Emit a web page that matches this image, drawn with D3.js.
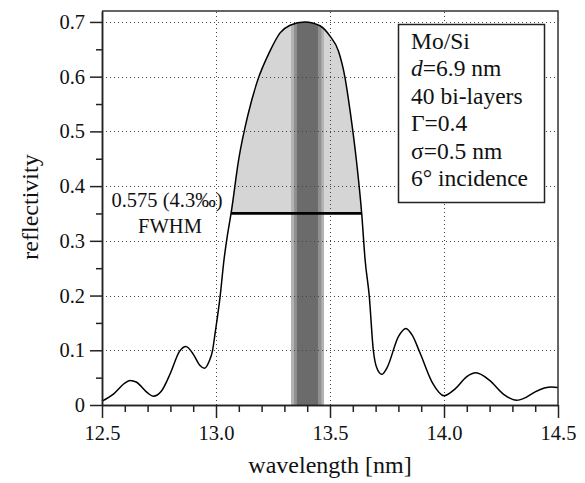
<!DOCTYPE html>
<html>
<head>
<meta charset="utf-8">
<script src="https://cdn.jsdelivr.net/npm/d3@7"></script>
<style>
  body { margin: 0; background: #fff; }
  svg { font-family: "Liberation Serif", "DejaVu Serif", serif; }
</style>
</head>
<body>
<svg id="chart" width="585" height="483"></svg>
<script>
// reflectivity curve
const wavelength = [12.50, 12.55, 12.60, 12.623, 12.65, 12.70, 12.725, 12.76, 12.80, 12.84, 12.868, 12.90, 12.93, 12.949, 12.97, 12.985, 12.996,
  13.018, 13.035, 13.05, 13.066, 13.10, 13.14, 13.18, 13.237, 13.281, 13.325, 13.39, 13.456, 13.50, 13.537, 13.566, 13.588, 13.615, 13.639,
  13.654, 13.672, 13.69, 13.705, 13.727, 13.75, 13.80, 13.833, 13.86, 13.895, 13.95, 14.00, 14.05, 14.10, 14.14, 14.20, 14.26, 14.319,
  14.36, 14.40, 14.44, 14.472, 14.50];
const reflectivity = [0.007, 0.020, 0.040, 0.045, 0.042, 0.022, 0.016, 0.025, 0.058, 0.098, 0.107, 0.093, 0.072, 0.067, 0.080, 0.100, 0.131,
  0.198, 0.265, 0.310, 0.350, 0.450, 0.530, 0.590, 0.647, 0.680, 0.694, 0.700, 0.693, 0.674, 0.647, 0.598, 0.538, 0.450, 0.350,
  0.265, 0.200, 0.100, 0.068, 0.056, 0.068, 0.125, 0.140, 0.128, 0.095, 0.040, 0.017, 0.030, 0.052, 0.059, 0.045, 0.020, 0.0085,
  0.014, 0.024, 0.031, 0.033, 0.032];

const xTicks = [12.5, 13.0, 13.5, 14.0, 14.5];
const yTicks = [0, 0.1, 0.2, 0.3, 0.4, 0.5, 0.6, 0.7];

// FWHM level and edges
const fwhmLevel = 0.35;
const fwhmEdges = [13.066, 13.639];

// shaded bands around the peak (outer to inner)
const bandEdges = [[13.329, 13.474], [13.342, 13.462], [13.355, 13.447]];
const bandColors = ["#b3b3b3", "#909090", "#6b6b6b"];

const legendLines = ["Mo/Si", "d=6.9 nm", "40 bi-layers", "\u0393=0.4", "\u03c3=0.5 nm", "6\u00b0 incidence"];

const svg = d3.select("#chart");
const x = d3.scaleLinear().domain([12.5, 14.5]).range([102, 558]);
const y = d3.scaleLinear().domain([0, 0.72]).range([405, 11]);

const pts = wavelength.map((w, i) => [w, reflectivity[i]]);

// clip = area under the curve
svg.append("clipPath").attr("id", "under")
  .append("path")
  .attr("d", d3.area().x(d => x(d[0])).y0(y(0)).y1(d => y(d[1])).curve(d3.curveMonotoneX)(pts));

const under = svg.append("g").attr("clip-path", "url(#under)");

// light fill above the FWHM line
under.append("rect")
  .attr("x", x(fwhmEdges[0]))
  .attr("width", x(fwhmEdges[1]) - x(fwhmEdges[0]))
  .attr("y", y(0.72))
  .attr("height", y(fwhmLevel) - y(0.72))
  .attr("fill", "#d5d5d5");

under.selectAll("rect.band")
  .data(bandEdges)
  .enter().append("rect")
  .attr("class", "band")
  .attr("x", d => x(d[0]))
  .attr("width", d => x(d[1]) - x(d[0]))
  .attr("y", y(0.72))
  .attr("height", y(0) - y(0.72))
  .attr("fill", (d, i) => bandColors[i]);

// dotted grid
const grid = svg.append("g").attr("stroke", "#444").attr("stroke-width", 1).attr("stroke-dasharray", "1,3");
grid.selectAll("line.h")
  .data(yTicks.filter(d => d > 0))
  .enter().append("line")
  .attr("x1", x(12.5)).attr("x2", x(14.5))
  .attr("y1", d => Math.round(y(d)) + 0.5).attr("y2", d => Math.round(y(d)) + 0.5);
grid.selectAll("line.v")
  .data(xTicks.slice(1, -1))
  .enter().append("line")
  .attr("y1", y(0)).attr("y2", y(0.72))
  .attr("x1", d => Math.round(x(d)) + 0.5).attr("x2", d => Math.round(x(d)) + 0.5);

// curve
svg.append("path")
  .attr("d", d3.line().x(d => x(d[0])).y(d => y(d[1])).curve(d3.curveMonotoneX)(pts))
  .attr("fill", "none")
  .attr("stroke", "#000")
  .attr("stroke-width", 1.5);

// FWHM bar
svg.append("line")
  .attr("x1", x(fwhmEdges[0])).attr("x2", x(fwhmEdges[1]))
  .attr("y1", y(fwhmLevel)).attr("y2", y(fwhmLevel))
  .attr("stroke", "#000").attr("stroke-width", 2.8);

const lbl = svg.append("text").attr("font-size", 20.5).attr("text-anchor", "middle").attr("fill", "#111");
lbl.append("tspan").attr("x", 167).attr("y", 207).text("0.575 (4.3\u2030)");
lbl.append("tspan").attr("x", 170).attr("y", 233).text("FWHM");

// frame
svg.append("path")
  .attr("d", `M${x(12.5)},${y(0.72)}H${x(14.5)}V${y(0)}`)
  .attr("fill", "none").attr("stroke", "#333").attr("stroke-width", 1.5);

// axes
svg.append("g").attr("transform", `translate(0,${y(0)})`)
  .call(d3.axisBottom(x).tickValues(xTicks).tickFormat(d3.format(".1f")).tickSizeInner(13).tickSizeOuter(0).tickPadding(7));
svg.append("g").attr("transform", `translate(0,${y(0)})`)
  .call(d3.axisBottom(x).tickValues(d3.range(126, 145).map(d => d / 10).filter(d => !xTicks.includes(d))).tickFormat("").tickSizeInner(7).tickSizeOuter(0));

svg.append("g").attr("transform", `translate(${x(12.5)},0)`)
  .call(d3.axisLeft(y).tickValues(yTicks).tickFormat(d => d === 0 ? "0" : d3.format(".1f")(d)).tickSizeInner(12).tickSizeOuter(0).tickPadding(5));
svg.append("g").attr("transform", `translate(${x(12.5)},0)`)
  .call(d3.axisLeft(y).tickValues(d3.range(0.05, 0.7, 0.1)).tickFormat("").tickSizeInner(6).tickSizeOuter(0));

svg.selectAll(".domain").attr("stroke", "#222").attr("stroke-width", 1.5);
svg.selectAll(".tick line").attr("stroke", "#222").attr("stroke-width", 1.5);
svg.selectAll(".tick text").attr("font-size", 20.5).attr("font-family", "Liberation Serif").attr("fill", "#111");

// axis titles
svg.append("text").attr("x", x(13.5)).attr("y", 473).attr("text-anchor", "middle")
  .attr("font-size", 24).attr("fill", "#111").text("wavelength [nm]");
svg.append("text").attr("transform", "translate(38,207) rotate(-90)").attr("text-anchor", "middle")
  .attr("font-size", 24).attr("fill", "#111").text("reflectivity");

// parameter box
svg.append("rect").attr("x", 398.5).attr("y", 24.5).attr("width", 146).attr("height", 178)
  .attr("fill", "#fff").attr("stroke", "#222").attr("stroke-width", 1.5);
const leg = svg.append("text").attr("font-size", 23.5).attr("fill", "#111");
legendLines.forEach((t, i) => {
  const ts = leg.append("tspan").attr("x", 411).attr("y", 49 + i * 27.4);
  if (t.startsWith("d=")) {
    ts.append("tspan").attr("font-style", "italic").text("d");
    ts.append("tspan").text(t.slice(1));
  } else {
    ts.text(t);
  }
});
</script>
</body>
</html>
